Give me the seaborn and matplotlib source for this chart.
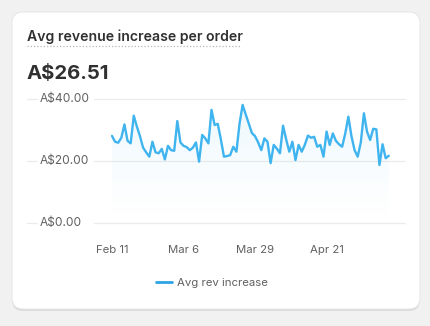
import numpy as np
import pandas as pd
import matplotlib
matplotlib.use("Agg")
import matplotlib.pyplot as plt
import matplotlib.dates as mdates
from matplotlib.patches import FancyBboxPatch
from matplotlib.colors import to_rgb
import seaborn as sns

# ---- data ----
start_date = "2023-02-11"
avg_rev_increase = [
    28.1, 26.2, 25.9, 27.5, 31.8, 26.5, 25.7, 34.6, 31.1, 28.0,
    24.3, 22.8, 21.4, 26.2, 22.8, 22.5, 23.9, 20.5, 24.9, 23.5,
    23.3, 32.9, 26.0, 24.9, 24.5, 23.5, 24.3, 26.0, 19.8, 28.4,
    27.3, 25.7, 36.5, 31.6, 32.0, 27.0, 21.4, 21.6, 21.9, 24.6,
    23.0, 32.0, 38.1, 35.0, 32.0, 29.0, 28.0, 26.0, 23.5, 27.3,
    26.2, 19.3, 25.2, 24.0, 22.5, 31.4, 27.0, 23.0, 26.2, 20.3,
    25.2, 23.0, 25.2, 28.2, 27.5, 27.8, 24.6, 25.2, 21.4, 29.5,
    25.2, 28.9, 26.5, 25.4, 24.6, 28.9, 34.3, 28.0, 23.5, 21.4,
    26.0, 35.4, 29.5, 26.8, 30.4, 30.2, 18.7, 25.4, 20.9, 21.7,
]
tick_dates = ["2023-02-11", "2023-03-06", "2023-03-29", "2023-04-21"]
tick_labels = ["Feb 11", "Mar 6", "Mar 29", "Apr 21"]
y_ticks = [0, 20, 40]
y_tick_labels = ["A$0.00", "A$20.00", "A$40.00"]
series_name = "Avg rev increase"
title = "Avg revenue increase per order"
headline = "A$26.51"

dates = pd.date_range(start_date, periods=len(avg_rev_increase), freq="D")
df = pd.DataFrame({"date": dates, "value": avg_rev_increase})

LINE = "#3fb4ee"
TEXT_DARK = "#303030"
TEXT_MUTED = "#616161"
GRID = "#ebebeb"

sns.set_theme(style="white")
plt.rcParams["font.family"] = ["Inter", "DejaVu Sans"]

W, H = 430, 326
fig = plt.figure(figsize=(W / 100, H / 100), dpi=100)
fig.patch.set_facecolor("#f1f1f1")

def px(x0, y0, x1, y1):
    """pixel box (top-left origin) -> figure fraction rect"""
    return [x0 / W, 1 - y1 / H, (x1 - x0) / W, (y1 - y0) / H]

# card with soft shadow (kept behind the axes)
shadow = FancyBboxPatch((0.12, 0.15), 4.08, 2.98,
                        boxstyle="round,pad=0,rounding_size=0.11",
                        transform=fig.dpi_scale_trans, facecolor="#dcdcdc",
                        edgecolor="none", zorder=-3)
card = FancyBboxPatch((0.12, 0.17), 4.08, 2.97,
                      boxstyle="round,pad=0,rounding_size=0.11",
                      transform=fig.dpi_scale_trans, facecolor="white",
                      edgecolor="#e4e4e4", linewidth=0.6, zorder=-2)
fig.patches.extend([shadow, card])

# title with dotted underline
fig.text(27 / W, 1 - 41 / H, title, fontsize=10.1, fontweight="semibold",
         color=TEXT_DARK, ha="left", va="baseline")
fig.add_artist(plt.Line2D([27 / W, 241 / W], [1 - 46 / H, 1 - 46 / H],
                          color="#b8b8b8", linewidth=0.9,
                          linestyle=(0, (1, 1.6)), transform=fig.transFigure))
fig.text(27 / W, 1 - 78.5 / H, headline, fontsize=14.6, fontweight="bold",
         color=TEXT_DARK, ha="left", va="baseline")

# plot area: full-width grid from x=27 to x=405, y 0..40 maps to px 223..99
ax = fig.add_axes(px(27, 99, 405, 223))
ax.set_facecolor("none")
d0 = mdates.date2num(pd.Timestamp(start_date))
px_per_day = 3.11
x_left = d0 - (112 - 27) / px_per_day
x_right = d0 + (405 - 112) / px_per_day

xnum = mdates.date2num(df["date"])

# gradient fill below the line
fill = ax.fill_between(xnum, df["value"], 0, facecolor="none", edgecolor="none")
n = 256
rgba = np.zeros((n, 1, 4))
rgba[..., :3] = to_rgb(LINE)
rgba[:, 0, 3] = np.linspace(0.0, 0.10, n) ** 1.2 / 0.10 ** 0.2
im = ax.imshow(rgba, extent=[xnum[0], xnum[-1], 0, 40], origin="lower",
               aspect="auto", zorder=1, interpolation="bilinear")
im.set_clip_path(fill.get_paths()[0], transform=ax.transData)

sns.lineplot(data=df, x="date", y="value", ax=ax, color=LINE, linewidth=1.7,
             zorder=3, legend=False)

ax.set_xlim(x_left, x_right)
ax.set_ylim(0, 40)

# gridlines, broken where the y labels sit
gap_l = (37 - 27) / 378
gap_r = (94 - 27) / 378
for yv, lab in zip(y_ticks, y_tick_labels):
    ax.plot([0, gap_l], [yv, yv], color=GRID, linewidth=0.9,
            transform=ax.get_yaxis_transform(), zorder=0, clip_on=False)
    ax.plot([gap_r, 1], [yv, yv], color=GRID, linewidth=0.9,
            transform=ax.get_yaxis_transform(), zorder=0, clip_on=False)
    ax.text((40 - 27) / 378, yv, lab, transform=ax.get_yaxis_transform(),
            ha="left", va="center", fontsize=8.6, color=TEXT_MUTED)

ax.set_yticks([])
ax.set_xticks(mdates.date2num(pd.to_datetime(tick_dates)))
ax.set_xticklabels(tick_labels)
ax.tick_params(axis="x", length=0, pad=16, labelsize=8.2, labelcolor=TEXT_MUTED)
ax.set_xlabel("")
ax.set_ylabel("")
for s in ax.spines.values():
    s.set_visible(False)

# legend
handle = plt.Line2D([], [], color="#2ea3e3", linewidth=2)
fig.legend([handle], [series_name], loc="center",
           bbox_to_anchor=(212 / W, 1 - 283 / H), frameon=False,
           fontsize=8.2, labelcolor=TEXT_MUTED, handlelength=1.4,
           handletextpad=0.4)

fig.savefig("out.png", dpi=100, facecolor=fig.get_facecolor())
